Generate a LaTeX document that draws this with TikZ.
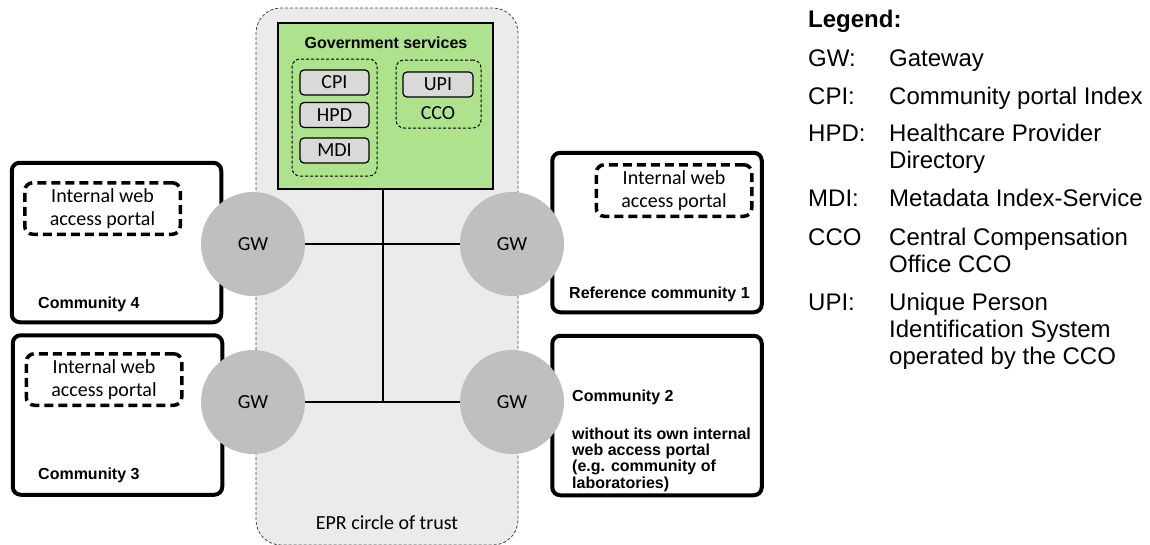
\documentclass[tikz,border=0pt]{standalone}
\usepackage{fontspec}
\setmainfont{Liberation Sans}
\newfontfamily\calibrifont{Carlito}
\usetikzlibrary{positioning}

\definecolor{trustgray}{RGB}{235,235,235}
\definecolor{govgreen}{RGB}{174,226,140}
\definecolor{boxgray}{RGB}{217,217,217}
\definecolor{gwgray}{RGB}{191,191,191}
\definecolor{dashgray}{RGB}{70,70,70}

\begin{document}
\begin{tikzpicture}[x = 1pt, y = -1pt,
	trust/.style = {draw = dashgray, fill = trustgray, line width = 0.8pt, dash pattern = on 3pt off 2pt, rounded corners = 25pt},
	gateway/.style = {circle, fill = gwgray, minimum size = 104pt, inner sep = 0pt, font = \calibrifont\fontsize{20}{24}\selectfont},
	community/.style = {draw, line width = 4pt, rounded corners = 8pt, minimum width = 209.5pt, minimum height = 159.5pt},
	portal/.style = {draw, line width = 3.5pt, dash pattern = on 9pt off 5pt, rounded corners = 8pt, minimum width = 155.5pt, minimum height = 51.5pt, inner sep = 0pt, align = center, font = \calibrifont\fontsize{20}{23}\selectfont},
	group/.style = {draw, line width = 1pt, dash pattern = on 3pt off 2pt, rounded corners = 8pt, minimum width = 85pt},
	service/.style = {draw, fill = boxgray, line width = 1.2pt, rounded corners = 4pt, minimum width = 69pt, minimum height = 25pt, inner sep = 0pt, font = \calibrifont\fontsize{20}{24}\selectfont},
	commtext/.style = {anchor = base west, inner sep = 0pt, align = left, font = \bfseries\fontsize{16}{16.3}\selectfont},
	legtext/.style = {anchor = base west, inner sep = 0pt, align = left, font = \fontsize{24}{27}\selectfont},
	wire/.style = {line width = 1.2pt}]

	% Definitions

	\def\L{808}		% Legend: abbreviation column
	\def\D{889}		% Legend: description column
	\def\S{27}		% Legend: line spacing

	\useasboundingbox (0, 0) rectangle (1150, 544);

	% EPR circle of trust

	\node [trust, minimum width = 262pt, minimum height = 537pt] (epr) at (387, 276.5) {};
	\node [anchor = base, font = \calibrifont\fontsize{20}{24}\selectfont] (eprtext) at (387, 529.5) {EPR circle of trust};

	% Government services

	\node [draw, fill = govgreen, line width = 1.2pt, minimum width = 215pt, minimum height = 166pt] (services) at (385.5, 106) {};
	\node [anchor = base, font = \bfseries\fontsize{16}{19}\selectfont] (servtext) at (386, 48.7) {Government services};

	\node [group, minimum height = 117pt] (indexes) at (334.5, 117.5) {};
	\node [group, minimum height = 68pt] (cco) at (438.5, 94) {};

	\node [service] (cpi) at (334.5, 82.5) {CPI};
	\node [service] (hpd) at (334.5, 115) {HPD};
	\node [service] (mdi) at (334.5, 150.5) {MDI};
	\node [service, minimum width = 70pt] (upi) at (438, 84.5) {UPI};
	\node [font = \calibrifont\fontsize{20}{24}\selectfont] (ccotext) at (438, 113) {CCO};

	% Communities

	\node [community] (comm4) at (116.5, 242.5) {};
	\node [community] (comm3) at (117.5, 415) {};
	\node [community] (comm1) at (657, 232.5) {};
	\node [community] (comm2) at (657, 415.5) {};

	\node [portal] (portal4) at (102.5, 208.5) {Internal web\\access portal};
	\node [portal] (portal3) at (104, 379.5) {Internal web\\access portal};
	\node [portal] (portal1) at (674, 190.5) {Internal web\\access portal};

	\node [commtext] (c4text) at (38, 308) {Community 4};
	\node [commtext] (c3text) at (38, 479) {Community 3};
	\node [commtext] (c1text) at (569, 298) {Reference community 1};
	\node [commtext] (c2text) at (572, 401) {Community 2};
	\node [commtext] (c2note) at (572, 488) {without its own internal\\web access portal\\(e.g. community of\\laboratories)};

	% Gateways

	\node [gateway] (gw4) at (253, 244) {GW};
	\node [gateway] (gw3) at (253, 402) {GW};
	\node [gateway] (gw1) at (512, 244) {GW};
	\node [gateway] (gw2) at (512, 402) {GW};

	% Connections

	\coordinate (hub) at (383, 402);

	\draw [wire] (services.south -| hub) -- (hub);
	\draw [wire] (gw4) -- (gw1);
	\draw [wire] (gw3) -- (gw2);

	% Legend (multi-line texts sit on the baseline of their last line)

	\node [legtext, font = \bfseries\fontsize{24}{27}\selectfont] (legend) at (\L, 27) {Legend:};

	\node [legtext] (gwkey) at (\L, 66) {GW:};
	\node [legtext] (gwdesc) at (\D, 66) {Gateway};
	\node [legtext] (cpikey) at (\L, 104) {CPI:};
	\node [legtext] (cpidesc) at (\D, 104) {Community portal Index};
	\node [legtext] (hpdkey) at (\L, 141) {HPD:};
	\node [legtext] (hpddesc) at (\D, 141 + \S) {Healthcare Provider\\Directory};
	\node [legtext] (mdikey) at (\L, 206) {MDI:};
	\node [legtext] (mdidesc) at (\D, 206) {Metadata Index-Service};
	\node [legtext] (ccokey) at (\L, 245.5) {CCO};
	\node [legtext] (ccodesc) at (\D, 245.5 + \S) {Central Compensation\\Office CCO};
	\node [legtext] (upikey) at (\L, 310.5) {UPI:};
	\node [legtext] (upidesc) at (\D, 310.5 + 2 * \S) {Unique Person\\Identification System\\operated by the CCO};

\end{tikzpicture}
\end{document}
